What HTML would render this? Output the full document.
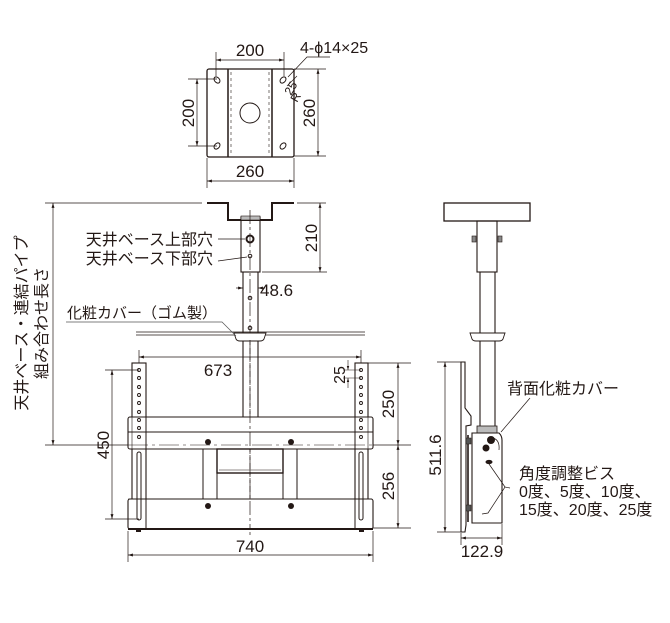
<!DOCTYPE html>
<html><head><meta charset="utf-8"><style>
html,body{margin:0;padding:0;background:#fff;}
svg{display:block;font-family:"Liberation Sans","Noto Sans CJK JP",sans-serif;}
text{fill:#231815;}
</style></head><body>
<svg width="670" height="623" viewBox="0 0 670 623" xmlns="http://www.w3.org/2000/svg">
<defs>
<marker id="a" viewBox="0 0 10 10" refX="10" refY="5" markerWidth="7" markerHeight="7" orient="auto-start-reverse"><path d="M0,2 L10,5 L0,8 z" fill="#231815"/></marker>
</defs>
<g stroke="#231815" fill="none" stroke-width="1">
<rect x="207" y="69" width="87" height="88" rx="2" stroke-width="1.3"/>
<line x1="228" y1="69" x2="228" y2="157" stroke-width="1.5"/>
<line x1="272" y1="69" x2="272" y2="157" stroke-width="1.5"/>
<line x1="231" y1="72" x2="231" y2="154" stroke-dasharray="3,3" stroke-width=".6"/>
<line x1="269" y1="72" x2="269" y2="154" stroke-dasharray="3,3" stroke-width=".6"/>
<circle cx="250" cy="113" r="10"/>
<ellipse cx="217" cy="80" rx="2.5" ry="3.5" transform="rotate(-40 217 80)"/>
<ellipse cx="283" cy="80" rx="2.5" ry="3.5" transform="rotate(40 283 80)"/>
<ellipse cx="217" cy="146" rx="2.5" ry="3.5" transform="rotate(40 217 146)"/>
<ellipse cx="283" cy="146" rx="2.5" ry="3.5" transform="rotate(40 283 146)"/>
<line x1="216" y1="52" x2="216" y2="76" stroke-width=".7"/>
<line x1="284" y1="52" x2="284" y2="76" stroke-width=".7"/>
<line x1="216" y1="60" x2="284" y2="60" stroke-width=".7" marker-start="url(#a)" marker-end="url(#a)"/>
<line x1="188" y1="79" x2="217" y2="79" stroke-width=".7"/>
<line x1="188" y1="146" x2="217" y2="146" stroke-width=".7"/>
<line x1="197" y1="79" x2="197" y2="146" stroke-width=".7" marker-start="url(#a)" marker-end="url(#a)"/>
<line x1="294" y1="69" x2="326" y2="69" stroke-width=".7"/>
<line x1="294" y1="156" x2="326" y2="156" stroke-width=".7"/>
<line x1="318" y1="69" x2="318" y2="156" stroke-width=".7" marker-start="url(#a)" marker-end="url(#a)"/>
<line x1="207" y1="158" x2="207" y2="188" stroke-width=".7"/>
<line x1="294" y1="158" x2="294" y2="188" stroke-width=".7"/>
<line x1="207" y1="181" x2="294" y2="181" stroke-width=".7" marker-start="url(#a)" marker-end="url(#a)"/>
<polyline points="330,57 307,57 288,77" stroke-width=".7"/>
<line x1="287" y1="86" x2="297" y2="76" stroke-width=".6"/>

<line x1="45" y1="203" x2="202" y2="203" stroke-width=".7"/>
<polyline points="207,203 228,203 228,220 272,220 272,203 294,203" stroke-width="2"/>
<line x1="297" y1="203" x2="326" y2="203" stroke-width=".7"/>
<line x1="262" y1="272" x2="327" y2="272" stroke-width=".7"/>
<line x1="320" y1="203" x2="320" y2="272" stroke-width=".7" marker-start="url(#a)" marker-end="url(#a)"/>
<rect x="241" y="217" width="19" height="55" stroke-width="1.1"/>
<rect x="241" y="216" width="19" height="4" fill="#bbb" stroke-width=".6"/>
<line x1="243" y1="272" x2="243" y2="417" stroke-width="1.1"/>
<line x1="258" y1="272" x2="258" y2="417" stroke-width="1.1"/>
<line x1="250" y1="210" x2="250" y2="535" stroke-dasharray="14,3,3,3" stroke-width=".7"/>
<circle cx="250" cy="239" r="3.5" stroke-width="2"/>
<circle cx="250" cy="256" r="1.8"/>
<line x1="218" y1="239" x2="245" y2="239" stroke-width=".7"/>
<line x1="218" y1="261" x2="247" y2="257" stroke-width=".7"/>
<line x1="236" y1="288" x2="243" y2="288" stroke-width=".7" marker-end="url(#a)"/>
<line x1="265" y1="288" x2="258" y2="288" stroke-width=".7" marker-end="url(#a)"/>
<circle cx="250" cy="298" r="1.8"/>
<circle cx="250" cy="328" r="1.8"/>
<line x1="136" y1="332" x2="365" y2="332" stroke-width=".8"/>
<line x1="136" y1="335" x2="365" y2="335" stroke-width=".8"/>
<path d="M234,333 L266,333 L264,339 Q263,341 260,341 L240,341 Q237,341 236,339 Z" fill="#fff" stroke-width=".9"/>
<polyline points="66,322 222,322 236,336" stroke-width=".7" stroke="#555"/>
<line x1="53" y1="203" x2="53" y2="445" stroke-width=".7" marker-start="url(#a)" marker-end="url(#a)"/>
<line x1="45" y1="445" x2="128" y2="445" stroke-width=".7"/>

<line x1="139" y1="350" x2="139" y2="368" stroke-width=".7"/>
<line x1="361" y1="350" x2="361" y2="368" stroke-width=".7"/>
<line x1="139" y1="357" x2="361" y2="357" stroke-width=".7" marker-start="url(#a)" marker-end="url(#a)"/>
<rect x="132" y="363" width="14" height="165" fill="#fff" stroke-width="1.1"/>
<rect x="355" y="363" width="13" height="165" fill="#fff" stroke-width="1.1"/>
<rect x="128" y="417" width="245" height="32" rx="2" fill="#fff" stroke-width="1.1"/>
<line x1="128" y1="432" x2="373" y2="432" stroke-width="1"/>
<line x1="146" y1="417" x2="146" y2="449"/>
<line x1="355" y1="417" x2="355" y2="449"/>
<line x1="132" y1="417" x2="132" y2="449" stroke-width=".6"/>
<line x1="368" y1="417" x2="368" y2="449" stroke-width=".6"/>
<rect x="128" y="499" width="245" height="30" rx="2" fill="#fff" stroke-width="1.1"/>
<line x1="146" y1="499" x2="146" y2="529"/>
<line x1="355" y1="499" x2="355" y2="529"/>
<line x1="128" y1="529" x2="373" y2="529" stroke-width="2"/>
<rect x="203" y="449" width="14" height="50" fill="#fff" stroke-width="1"/>
<rect x="283" y="449" width="14" height="50" fill="#fff" stroke-width="1"/>
<rect x="217" y="449" width="66" height="24" stroke-width="1.4"/>
<line x1="219" y1="470" x2="281" y2="470" stroke-width=".6"/>
<line x1="128" y1="445" x2="373" y2="445" stroke-dasharray="20,4,3,4" stroke-width=".6"/>
<line x1="128" y1="499" x2="373" y2="499" stroke-dasharray="20,4,3,4" stroke-width=".6"/>
<line x1="250" y1="340" x2="250" y2="530" stroke-dasharray="14,3,3,3" stroke-width=".7"/>
<g stroke-width=".9">
<circle cx="139" cy="370" r="1.5"/><circle cx="139" cy="378" r="1.5"/><circle cx="139" cy="387" r="1.5"/><circle cx="139" cy="395" r="1.5"/><circle cx="139" cy="403" r="1.5"/><circle cx="139" cy="412" r="1.5"/><circle cx="139" cy="420" r="1.5"/><circle cx="139" cy="428" r="1.5"/><circle cx="139" cy="437" r="1.5"/>
<circle cx="361" cy="370" r="1.5"/><circle cx="361" cy="378" r="1.5"/><circle cx="361" cy="387" r="1.5"/><circle cx="361" cy="395" r="1.5"/><circle cx="361" cy="403" r="1.5"/><circle cx="361" cy="412" r="1.5"/><circle cx="361" cy="420" r="1.5"/><circle cx="361" cy="428" r="1.5"/><circle cx="361" cy="437" r="1.5"/>
</g>
<rect x="137" y="452" width="4" height="68" rx="2"/>
<rect x="359" y="452" width="4" height="68" rx="2"/>
<g fill="#231815" stroke="none">
<circle cx="208" cy="442" r="3"/><circle cx="291" cy="442" r="3"/><circle cx="208" cy="506" r="3"/><circle cx="291" cy="506" r="3"/>
<rect x="136" y="529" width="5" height="3"/><rect x="359" y="529" width="5" height="3"/>
</g>
<line x1="105" y1="370" x2="139" y2="370" stroke-width=".7"/>
<line x1="105" y1="519" x2="139" y2="519" stroke-width=".7"/>
<line x1="112" y1="370" x2="112" y2="519" stroke-width=".7" marker-start="url(#a)" marker-end="url(#a)"/>
<line x1="368" y1="363" x2="411" y2="363" stroke-width=".7"/>
<line x1="373" y1="445" x2="411" y2="445" stroke-width=".7"/>
<line x1="373" y1="528" x2="411" y2="528" stroke-width=".7"/>
<line x1="398" y1="363" x2="398" y2="445" stroke-width=".7" marker-start="url(#a)" marker-end="url(#a)"/>
<line x1="398" y1="445" x2="398" y2="528" stroke-width=".7" marker-start="url(#a)" marker-end="url(#a)"/>
<line x1="343" y1="370" x2="361" y2="370" stroke-width=".6"/>
<line x1="343" y1="378" x2="361" y2="378" stroke-width=".6"/>
<line x1="348" y1="360" x2="348" y2="370" stroke-width=".6" marker-end="url(#a)"/>
<line x1="348" y1="388" x2="348" y2="378" stroke-width=".6" marker-end="url(#a)"/>
<line x1="128" y1="531" x2="128" y2="562" stroke-width=".7"/>
<line x1="373" y1="531" x2="373" y2="562" stroke-width=".7"/>
<line x1="128" y1="555" x2="373" y2="555" stroke-width=".7" marker-start="url(#a)" marker-end="url(#a)"/>

<rect x="444" y="203" width="86" height="18" stroke-width="1.3"/>
<rect x="477" y="221" width="20" height="51" stroke-width="1.1"/>
<rect x="472" y="236" width="4" height="6" fill="#888" stroke-width=".6"/>
<rect x="498" y="236" width="4" height="6" fill="#888" stroke-width=".6"/>
<line x1="480" y1="272" x2="480" y2="426" stroke-width="1.1"/>
<line x1="495" y1="272" x2="495" y2="426" stroke-width="1.1"/>
<path d="M470,333 L505,333 L503,339 Q502,341 499,341 L476,341 Q473,341 472,339 Z" fill="#fff" stroke-width=".9"/>
<path d="M461,362 L465,362 L465,408 L471,416 L471,425 L466,426 L466,525 L465,532 L461,532 Z" fill="#fff" stroke-width="1.1"/>
<rect x="477" y="426" width="20" height="7" fill="#bbb" stroke-width=".8"/>
<path d="M472,433 L499,433 Q502,436 502,440 L502,523 L472,523 Z" fill="#fff" stroke-width="1.1"/>
<line x1="468" y1="435" x2="468" y2="522" stroke-width="1.6"/>
<rect x="466" y="438" width="5" height="6" fill="#555" stroke-width=".5"/>
<rect x="466" y="505" width="5" height="6" fill="#555" stroke-width=".5"/>
<circle cx="491" cy="440" r="3.5" fill="#231815"/>
<circle cx="486" cy="448" r="3" fill="#231815"/>
<ellipse cx="489" cy="462" rx="3" ry="1.6" fill="#231815"/>
<path d="M493,438 Q500,440 499,450" stroke-width=".7"/>
<line x1="437" y1="362" x2="461" y2="362" stroke-width=".7"/>
<line x1="437" y1="532" x2="461" y2="532" stroke-width=".7"/>
<line x1="445" y1="362" x2="445" y2="532" stroke-width=".7" marker-start="url(#a)" marker-end="url(#a)"/>
<line x1="461" y1="533" x2="461" y2="545" stroke-width=".7"/>
<line x1="502" y1="524" x2="502" y2="545" stroke-width=".7"/>
<line x1="461" y1="538" x2="502" y2="538" stroke-width=".7" marker-start="url(#a)" marker-end="url(#a)"/>
<line x1="530" y1="398" x2="501" y2="432" stroke-width=".7"/>
<polyline points="510,488 505,487 488,513 482,514" stroke-width=".7"/>
<line x1="489" y1="464" x2="505" y2="487" stroke-width=".7"/>
</g>

<g font-size="17">
<text x="250" y="56" text-anchor="middle">200</text>
<text x="300" y="53" font-size="16">4-ϕ14×25</text>
<text transform="translate(194 113) rotate(-90)" text-anchor="middle">200</text>
<text transform="translate(315 113) rotate(-90)" text-anchor="middle">260</text>
<text x="250" y="177" text-anchor="middle">260</text>
<text transform="translate(291 96) rotate(-60)" font-size="12">25</text>
<text transform="translate(297 103) rotate(-60)" font-size="12">R</text>
<text transform="translate(317 238) rotate(-90)" text-anchor="middle">210</text>
<text x="260" y="296">48.6</text>
<text x="218" y="376" text-anchor="middle">673</text>
<text transform="translate(345 375) rotate(-90)" text-anchor="middle" font-size="16">25</text>
<text transform="translate(109 445) rotate(-90)" text-anchor="middle">450</text>
<text transform="translate(394 404) rotate(-90)" text-anchor="middle">250</text>
<text transform="translate(394 486) rotate(-90)" text-anchor="middle">256</text>
<text x="250" y="552" text-anchor="middle">740</text>
<text transform="translate(441 455) rotate(-90)" text-anchor="middle">511.6</text>
<text x="482" y="557" text-anchor="middle">122.9</text>
</g>
<g font-size="16">
<text x="213" y="245" text-anchor="end">天井ベース上部穴</text>
<text x="213" y="264" text-anchor="end">天井ベース下部穴</text>
<text x="67" y="318" font-size="15">化粧カバー（ゴム製）</text>
<text x="507" y="394">背面化粧カバー</text>
<text x="519" y="479">角度調整ビス</text>
<text x="519" y="497">0度、5度、10度、</text>
<text x="519" y="515">15度、20度、25度</text>
<text transform="translate(27 323) rotate(-90)" text-anchor="middle">天井ベース・連結パイプ</text>
<text transform="translate(47 323) rotate(-90)" text-anchor="middle">組み合わせ長さ</text>
</g>
</svg>
</body></html>
